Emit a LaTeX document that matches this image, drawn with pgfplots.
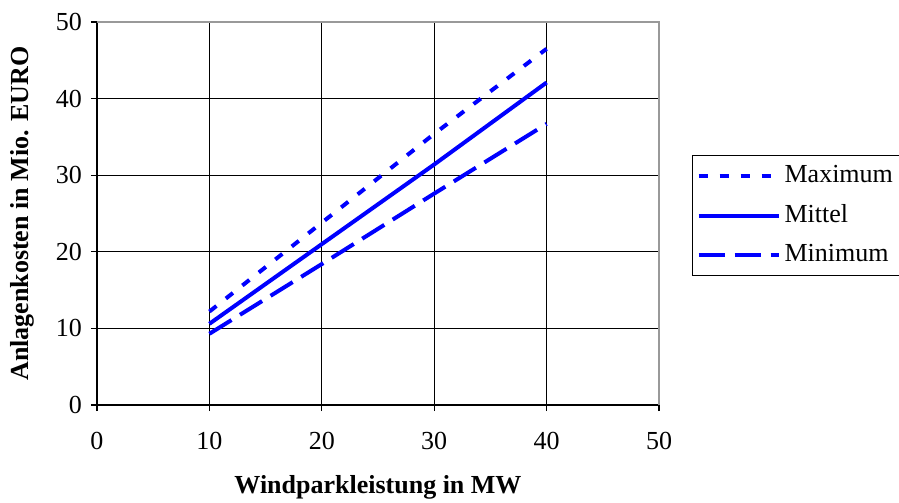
\documentclass[border=0pt]{standalone}
\usepackage{pgfplots}
\pgfplotsset{compat=1.18}
\usepackage{fontspec}
\setmainfont{Liberation Serif}
\definecolor{lineblue}{RGB}{0,0,255}
\begin{document}
\fontsize{13}{15}\selectfont
\begin{tikzpicture}
\path[use as bounding box] (-48.5pt,-49pt) rectangle (401pt,202.5pt);
\begin{axis}[
  scale only axis,
  width=281pt, height=191.5pt,
  xmin=0, xmax=50, ymin=0, ymax=50,
  xtick={0,10,...,50}, ytick={0,10,...,50},
  xtick pos=bottom, ytick pos=left,
  grid=major,
  major grid style={black, line width=0.6pt},
  axis line style={black, line width=0.8pt},
  tick style={black, line width=0.6pt},
  tick align=outside,
  major tick length=3pt,
  /pgf/number format/assume math mode=true,
  tick label style={font=\fontsize{13}{15}\selectfont},
  xticklabel style={yshift=-6pt},
  xlabel={\textbf{Windparkleistung in MW}},
  ylabel={\textbf{Anlagenkosten in Mio. EURO}},
  xlabel style={font=\fontsize{13}{15}\selectfont, at={(axis description cs:0.5,0)}, anchor=center, yshift=-41pt},
  ylabel style={font=\fontsize{13}{15}\selectfont, at={(axis description cs:0,0.5)}, anchor=center, xshift=0pt, yshift=37.5pt},
  legend style={at={(rel axis cs:1.0587,0.6527)}, anchor=north west, draw=black, line width=0.6pt,
     font=\fontsize{13}{15}\selectfont, inner xsep=2pt, inner ysep=3pt, row sep=5pt, cells={anchor=west}},
  legend cell align=left,
  legend image code/.code={\draw[#1] (0pt,0pt) -- (40pt,0pt);},
  clip=false,
]
\addplot[lineblue, line width=2pt, dash pattern=on 4.5pt off 6pt] coordinates {(10,12.2) (20,23.8) (30,35.4) (40,46.5)};
\addlegendentry{Maximum}
\addplot[lineblue, line width=2pt] coordinates {(10,10.6) (20,21.0) (30,31.4) (40,42.1)};
\addlegendentry{Mittel}
\addplot[lineblue, line width=2pt, dash pattern=on 13pt off 5pt] coordinates {(10,9.3) (20,18.4) (30,27.6) (40,36.7)};
\addlegendentry{Minimum}
\draw[gray!80, line width=0.8pt] (rel axis cs:0,1) -- (rel axis cs:1,1) -- (rel axis cs:1,0);
\end{axis}
\end{tikzpicture}
\end{document}
